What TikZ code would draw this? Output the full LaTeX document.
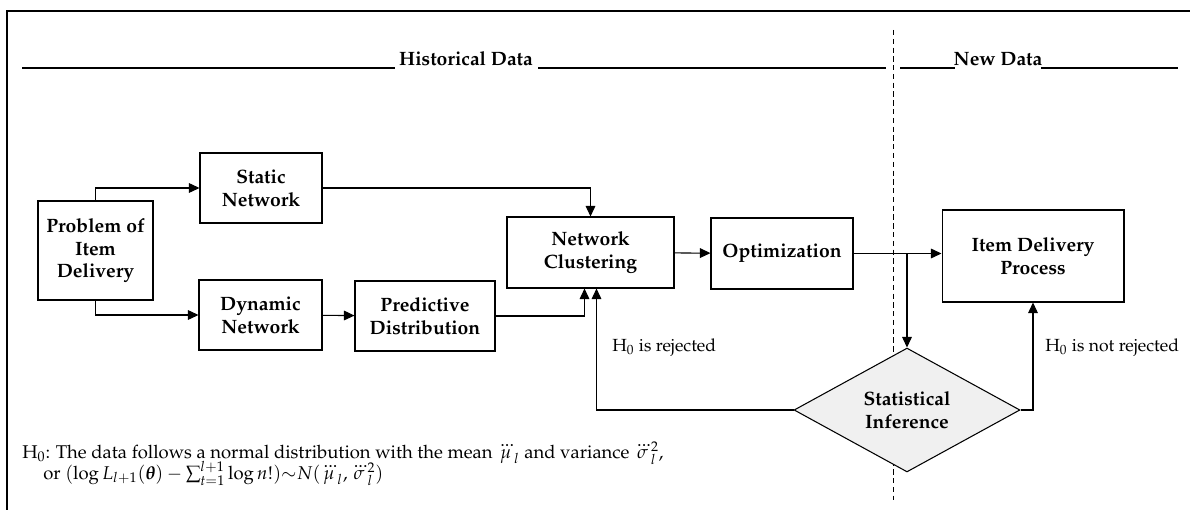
\documentclass[tikz,border=0pt]{standalone}
\usepackage[T1]{fontenc}
\usepackage{mathpazo}
\usepackage{amsmath,bm}
\usetikzlibrary{shapes.geometric,arrows.meta}
\begin{document}
\begin{tikzpicture}[x=0.02cm, y=-0.02cm,
    box/.style={rectangle, draw, line width=0.6pt, align=center,
      inner sep=2pt, font=\fontsize{11}{13}\selectfont\bfseries},
    decision/.style={diamond, draw, line width=0.6pt, fill=black!6,
      align=center, inner sep=0pt, minimum width=4.52cm,
      minimum height=2.25cm, font=\fontsize{11}{13}\selectfont\bfseries},
    lbl/.style={font=\fontsize{10}{12}\selectfont, inner sep=0pt}]
  \useasboundingbox (0,0) rectangle (1190,510);
  % frame and headers
  \draw[line width=1.2pt] (7,510) -- (7,11) -- (1190,11);
  \node[lbl, anchor=base, font=\fontsize{11}{13}\selectfont\bfseries]
    (hist) at (466,66) {Historical Data};
  \node[lbl, anchor=base, font=\fontsize{11}{13}\selectfont\bfseries]
    (new) at (998,66) {New Data};
  \draw[line width=0.6pt] (22,68) -- (395,68) (538,68) -- (886,68)
    (900,68) -- (955,68) (1041,68) -- (1178,68);
  \draw[dashed, dash pattern=on 3pt off 2pt, line width=0.4pt]
    (893,30) -- (893,500);
  \begin{scope}[every node/.style={box}]
    \node[minimum width=2.3cm, minimum height=1.98cm] (prob) at
      (95.5,250.5) {Problem of\\Item\\Delivery};
    \node[minimum width=2.44cm, minimum height=1.4cm] (static) at
      (261,188) {Static\\Network};
    \node[minimum width=2.46cm, minimum height=1.4cm] (dyn) at
      (260.5,315) {Dynamic\\Network};
    \node[minimum width=2.8cm, minimum height=1.4cm] (pred) at
      (425,316) {Predictive\\Distribution};
    \node[minimum width=3.34cm, minimum height=1.42cm] (clus) at
      (590.5,252.5) {Network\\Clustering};
    \node[minimum width=2.84cm, minimum height=1.42cm] (opt) at
      (782,253.5) {Optimization};
    \node[minimum width=3.64cm, minimum height=1.84cm] (item) at
      (1033,256) {Item Delivery\\Process};
  \end{scope}
  \node[decision] (infer) at (907,410) {Statistical\\Inference};
  \coordinate (br) at (opt.east -| infer.north);
  \begin{scope}[->, >={Triangle[length=6pt, width=5.5pt]}, line width=0.6pt]
    \draw (prob.north) |- (static.west); \draw (prob.south) |-
    (dyn.west); \draw (static.east) -| (clus.north); \draw (dyn) --
    (pred); \draw (pred.east) -| ([xshift=-0.12cm]clus.south);
    \draw (clus) -- (opt); \draw (opt.east) -- (opt.east -|
    item.west); \draw (br) -- (infer.north); \draw (infer.west) -|
    ([xshift=0.12cm]clus.south); \draw (infer.east) -| (item.south);
  \end{scope}
  \node[lbl, anchor=west] (rej) at (612,348) {H$_0$ is rejected};
  \node[lbl, anchor=west] (notrej) at (1045,348) {H$_0$ is not rejected};
  % hypothesis
  \node[lbl, anchor=base west, font=\fontsize{10.5}{12}\selectfont]
    (hyp) at (22,458) {H$_0$: The data follows a normal distribution
    with the mean $\dddot{\mu}_l$ and variance $\dddot{\sigma}_l^2$,};
  \node[lbl, anchor=base west, font=\fontsize{10.5}{12}\selectfont]
    (hyp2) at (43,479) {or $(\log L_{l+1}(\bm{\theta}) -
    \sum_{t=1}^{l+1} \log n!) {\sim} N(\dddot{\mu}_l,
    \dddot{\sigma}_l^2)$};
\end{tikzpicture}
\end{document}
